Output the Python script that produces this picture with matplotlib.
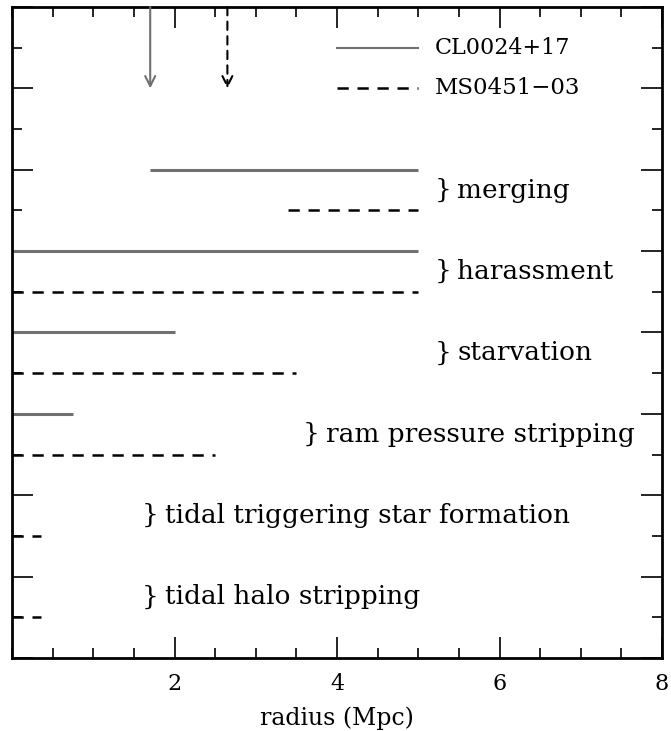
import matplotlib.pyplot as plt
from matplotlib.ticker import MultipleLocator

# process rows (bottom to top)
processes = ["tidal halo stripping", "tidal triggering star formation",
             "ram pressure stripping", "starvation", "harassment", "merging"]
# radial range where each process is effective (Mpc)
cl_start = [0.0, 0.0, 0.0, 0.0, 0.0, 1.7]
cl_end = [0.0, 0.0, 0.75, 2.0, 5.0, 5.0]
ms_start = [0.0, 0.0, 0.0, 0.0, 0.0, 3.4]
ms_end = [0.35, 0.35, 2.5, 3.5, 5.0, 5.0]
label_x = [1.6, 1.6, 3.58, 5.2, 5.2, 5.2]

# virial radius arrows
cl_rvir = 1.7
ms_rvir = 2.65

plt.rcParams['font.family'] = ['DejaVu Serif']
fig = plt.figure(figsize=(6.71, 7.31), dpi=100)
ax = fig.add_axes([0.018, 0.0999, 0.9687, 0.8905])

grey = "#707070"
fs = 19
for i, name in enumerate(processes):
    ysolid = 2 * i + 2
    ydash = 2 * i + 1
    if cl_end[i] > cl_start[i]:
        ax.plot([cl_start[i], cl_end[i]], [ysolid, ysolid], color=grey, lw=2.2,
                solid_capstyle="butt")
    ax.plot([ms_start[i], ms_end[i]], [ydash, ydash], color="black", lw=1.8,
            dashes=(4.5, 3.5))
    ax.text(label_x[i], 2 * i + 1.5, "}", fontsize=fs, va="center", ha="left")
    ax.text(label_x[i] + 0.28, 2 * i + 1.5, name, fontsize=fs, va="center", ha="left")

# legend
ax.plot([4.0, 5.0], [15, 15], color=grey, lw=1.5)
ax.plot([4.0, 5.0], [14, 14], color="black", lw=1.8, dashes=(4.5, 3.5))
ax.text(5.2, 15, "CL0024+17", fontsize=16, va="center", ha="left")
ax.text(5.2, 14, "MS0451\u221203", fontsize=16.5, va="center", ha="left")

# arrows
ax.annotate("", xy=(cl_rvir, 14), xytext=(cl_rvir, 16),
            arrowprops=dict(arrowstyle="->", color=grey, lw=1.5,
                            mutation_scale=18, shrinkA=0, shrinkB=0))
ax.annotate("", xy=(ms_rvir, 14), xytext=(ms_rvir, 16),
            arrowprops=dict(arrowstyle="->", color="black", lw=1.5,
                            linestyle=(0, (4, 3)), mutation_scale=18,
                            shrinkA=0, shrinkB=0))

ax.set_xlim(0, 8)
ax.set_ylim(0, 16)
ax.xaxis.set_major_locator(MultipleLocator(2))
ax.xaxis.set_minor_locator(MultipleLocator(0.5))
ax.yaxis.set_major_locator(MultipleLocator(2))
ax.yaxis.set_minor_locator(MultipleLocator(1))
ax.tick_params(which="both", direction="in", top=True, right=True, width=1.2)
ax.tick_params(which="major", length=15)
ax.tick_params(which="minor", length=7)
ax.tick_params(axis="y", labelleft=False)
ax.tick_params(axis="x", pad=11)
ax.set_xticks([2, 4, 6, 8])
ax.set_xticklabels(["2", "4", "6", "8"], fontsize=16)
ax.set_xlabel("radius (Mpc)", fontsize=17, labelpad=8)
for s in ax.spines.values():
    s.set_linewidth(2)

fig.savefig("out.png", dpi=100)
